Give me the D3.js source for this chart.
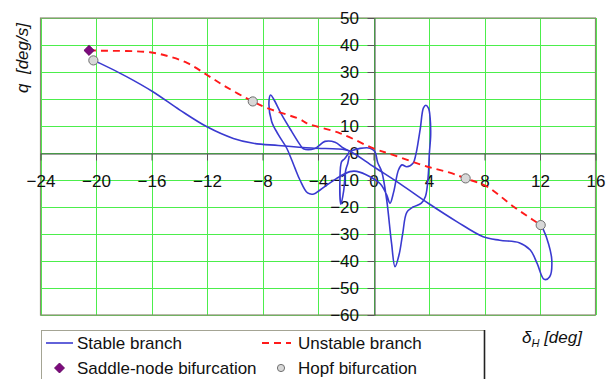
<!DOCTYPE html>
<html>
<head>
<meta charset="utf-8">
<script src="https://cdn.jsdelivr.net/npm/d3@7"></script>
<style>
  html, body { margin: 0; padding: 0; background: #fff; }
  svg { display: block; font-family: "Liberation Sans", Arial, sans-serif; }
</style>
</head>
<body>
<svg id="chart" width="615" height="379"></svg>
<script>
// Elevator deflection δH [deg] vs pitch rate q [deg/s]

const xTicks = [-24, -20, -16, -12, -8, -4, 0, 4, 8, 12, 16];
const yTicks = [-60, -50, -40, -30, -20, -10, 0, 10, 20, 30, 40, 50];

// Unstable branch (dashed), from the saddle-node point to the last Hopf point
const unstableBranch = [
  [-20.5, 38.0], [-19.7, 37.9], [-16.1, 37.3], [-14.7, 35.7], [-13.4, 33.3],
  [-12.0, 28.9], [-10.6, 24.4], [-8.7, 19.1], [-7.7, 16.7], [-5.3, 12.5],
  [-4.8, 11.0], [-2.4, 7.3], [0.0, 1.7], [1.4, -0.7], [3.9, -5.1],
  [5.5, -7.3], [6.64, -9.4], [8.2, -12.5], [10.1, -19.9], [11.5, -24.8],
  [12.05, -26.7]
];

// Stable branch: outer path from the left Hopf point to the right Hopf point
const stableOuter = [
  [-20.19, 34.3], [-19.7, 33.2], [-17.8, 28.3], [-15.9, 22.7], [-13.95, 15.9],
  [-12.0, 9.7], [-10.1, 5.4], [-8.66, 3.6], [-6.86, 2.8], [-4.45, 1.85],
  [-2.05, 1.2], [-1.6, 0.4], [0.0, -5.0], [2.0, -11.7], [4.0, -18.8],
  [6.0, -25.4], [7.9, -31.0], [9.1, -32.3], [10.5, -33.2], [11.3, -35.9],
  [11.8, -41.0], [12.3, -46.8], [12.7, -45.8], [12.85, -39.6], [12.6, -33.4],
  [12.25, -28.5], [12.05, -26.7]
];

// Stable branch: oscillating part around the origin
const stableLoop = [
  [-1.7, 0.6], [-2.18, 1.85], [-2.77, 4.0], [-3.5, 4.3], [-4.22, 1.7],
  [-5.06, 1.6], [-5.3, 3.1], [-5.9, 8.0], [-6.62, 14.2], [-7.2, 20.0],
  [-7.41, 21.5], [-7.53, 19.3], [-7.34, 11.7], [-6.86, 6.8], [-6.26, 1.85],
  [-5.9, -2.5], [-5.66, -5.6], [-5.3, -10.0], [-4.75, -14.8], [-4.3, -15.2],
  [-3.85, -13.7], [-2.65, -9.4], [-1.7, -6.9], [-1.2, -6.8], [-0.25, -8.8],
  [0.5, -11.5], [0.95, -15.5], [1.19, -18.6], [1.45, -14.5], [1.8, -6.3],
  [2.05, -4.4], [2.4, -5.1], [2.85, -3.8], [3.05, -0.6], [3.2, 3.5],
  [3.38, 9.3], [3.6, 16.7], [3.78, 17.7], [3.97, 16.5], [4.08, 13.0],
  [4.12, 6.8], [4.02, -0.6], [3.95, -8.0], [3.75, -16.0], [3.45, -18.6],
  [2.85, -20.0], [2.4, -22.0], [2.1, -30.0], [1.85, -37.5], [1.55, -42.1],
  [1.3, -33.4], [0.95, -17.4], [0.6, -7.0], [0.3, -3.5], [0.1, 0.5],
  [-0.25, 1.8], [-0.97, 1.7], [-1.7, 0.6]
];

// Stable branch: narrow excursion near δH = -2
const stableSpike = [
  [-1.75, 0.3], [-2.1, -2.2], [-2.3, -3.2], [-2.42, -10.0], [-2.35, -19.0],
  [-2.15, -14.0], [-2.0, -6.3], [-1.85, -3.8], [-1.75, -1.0]
];

const saddleNode = [[-20.5, 38.0]];
const hopfPoints = [[-20.19, 34.3], [-8.7, 19.1], [6.64, -9.4], [12.05, -26.7]];

const svg = d3.select("#chart");
const x = d3.scaleLinear().domain([-24, 16]).range([40.5, 595.5]);
const y = d3.scaleLinear().domain([-60, 50]).range([315, 18]);

const gridColor = "#4cee4c";
const stableColor = "#3a3ad0";
const unstableColor = "#ff1a1a";

// grid
const grid = svg.append("g");
grid.selectAll("line.v").data(xTicks).join("line")
  .attr("x1", d => Math.round(x(d)) + 0.5).attr("x2", d => Math.round(x(d)) + 0.5)
  .attr("y1", y(50)).attr("y2", y(-60))
  .attr("stroke", gridColor).attr("stroke-width", 1);
grid.selectAll("line.h").data(yTicks).join("line")
  .attr("y1", d => Math.round(y(d)) + 0.5).attr("y2", d => Math.round(y(d)) + 0.5)
  .attr("x1", x(-24)).attr("x2", x(16))
  .attr("stroke", gridColor).attr("stroke-width", 1);

// plot frame
svg.append("rect")
  .attr("x", x(-24)).attr("y", y(50))
  .attr("width", x(16) - x(-24)).attr("height", y(-60) - y(50))
  .attr("fill", "none").attr("stroke", "#8a8a72").attr("stroke-width", 1.2);

// axes through the origin
const xAxis = d3.axisBottom(x).tickValues(xTicks).tickSize(7).tickSizeOuter(0).tickPadding(14)
  .tickFormat(d3.format("d"));
const yAxis = d3.axisLeft(y).tickValues(yTicks).tickSize(7).tickSizeOuter(0).tickPadding(8.5)
  .tickFormat(d3.format("d"));

const gx = svg.append("g").attr("transform", `translate(0,${Math.round(y(0)) + 0.5})`).call(xAxis);
const gy = svg.append("g").attr("transform", `translate(${Math.round(x(0)) + 0.5},0)`).call(yAxis);
[gx, gy].forEach(g => {
  g.select(".domain").attr("stroke", "#454545").attr("stroke-width", 1);
  g.selectAll(".tick line").attr("stroke", "#555").attr("stroke-width", 1);
  g.selectAll(".tick text").attr("fill", "#111")
    .style("font-family", '"Liberation Sans", Arial, sans-serif').style("font-size", "17px");
});

// curves
const line = d3.line().x(d => x(d[0])).y(d => y(d[1])).curve(d3.curveCatmullRom.alpha(0.5));

[stableOuter, stableLoop, stableSpike].forEach(seg => {
  svg.append("path").datum(seg).attr("d", line)
    .attr("fill", "none").attr("stroke", stableColor).attr("stroke-width", 1.6)
    .attr("stroke-linejoin", "round");
});

svg.append("path").datum(unstableBranch).attr("d", line)
  .attr("fill", "none").attr("stroke", unstableColor).attr("stroke-width", 1.9)
  .attr("stroke-dasharray", "7,5");

// bifurcation markers
svg.selectAll("path.sn").data(saddleNode).join("path")
  .attr("d", d3.symbol(d3.symbolSquare, 52)())
  .attr("transform", d => `translate(${x(d[0])},${y(d[1])}) rotate(45)`)
  .attr("fill", "#7d0a7d").attr("stroke", "#5a005a").attr("stroke-width", 0.8);

svg.selectAll("circle.hopf").data(hopfPoints).join("circle")
  .attr("cx", d => x(d[0])).attr("cy", d => y(d[1])).attr("r", 4.6)
  .attr("fill", "#d8d8d8").attr("stroke", "#707070").attr("stroke-width", 1);

// axis titles
svg.append("text")
  .attr("transform", "translate(28,58) rotate(-90)")
  .attr("text-anchor", "middle")
  .style("font-size", "17px").style("font-style", "italic").style("white-space", "pre")
  .attr("fill", "#111")
  .text("q  [deg/s]");

const xt = svg.append("text").attr("x", 522).attr("y", 343)
  .style("font-size", "17px").style("font-style", "italic").attr("fill", "#111");
xt.append("tspan").text("δ");
xt.append("tspan").attr("dy", 4).style("font-size", "11px").text("H");
xt.append("tspan").attr("dy", -4).text(" [deg]");

// legend
const lg = svg.append("g");
lg.append("rect").attr("x", 41.5).attr("y", 330.5).attr("width", 443).attr("height", 60)
  .attr("fill", "#fff").attr("stroke", "#a4a494").attr("stroke-width", 1);
lg.append("line").attr("x1", 484.5).attr("x2", 484.5).attr("y1", 330).attr("y2", 379)
  .attr("stroke", "#222").attr("stroke-width", 1.6);

lg.append("line").attr("x1", 46).attr("x2", 73).attr("y1", 343).attr("y2", 343)
  .attr("stroke", stableColor).attr("stroke-width", 1.6);
lg.append("line").attr("x1", 262).attr("x2", 291).attr("y1", 343).attr("y2", 343)
  .attr("stroke", unstableColor).attr("stroke-width", 1.9).attr("stroke-dasharray", "7,5");
lg.append("path").attr("d", d3.symbol(d3.symbolSquare, 50)())
  .attr("transform", "translate(59.5,368) rotate(45)")
  .attr("fill", "#7d0a7d").attr("stroke", "#5a005a").attr("stroke-width", 0.8);
lg.append("circle").attr("cx", 281).attr("cy", 368).attr("r", 3.6)
  .attr("fill", "#d8d8d8").attr("stroke", "#707070").attr("stroke-width", 1);

const legendItems = [
  { label: "Stable branch", x: 77, y: 343 },
  { label: "Unstable branch", x: 298, y: 343 },
  { label: "Saddle-node bifurcation", x: 77, y: 368 },
  { label: "Hopf bifurcation", x: 298, y: 368 }
];
lg.selectAll("text").data(legendItems).join("text")
  .attr("x", d => d.x).attr("y", d => d.y).attr("dy", "0.35em")
  .style("font-size", "17px").attr("fill", "#111")
  .text(d => d.label);
</script>
</body>
</html>
